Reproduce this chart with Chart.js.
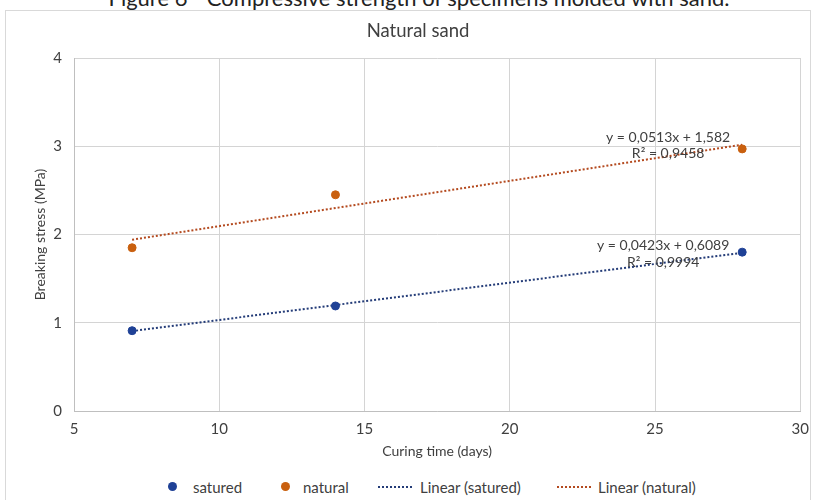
<!DOCTYPE html>
<html>
<head>
<meta charset="utf-8">
<script src="https://cdn.jsdelivr.net/npm/chart.js@4"></script>
<style>
  html, body { margin:0; padding:0; background:#fff; overflow:hidden; }
  body { width:814px; height:500px; position:relative; font-family: Lato, "Open Sans", sans-serif; }
  #caption { position:absolute; left:0; width:838px; top:-15px; line-height:26px; text-align:center; font-size:22px; color:#222; white-space:nowrap; }
  #frame { position:absolute; left:5px; top:10px; width:806px; height:495px; border:1px solid #d9d9d9; box-sizing:border-box; background:#fff; }
  #wrap { position:absolute; left:0; top:0; width:812px; height:453px; }
  #legend { position:absolute; left:0; top:477px; width:814px; height:20px; font-size:15px; color:#404040; }
  .item { position:absolute; top:0; line-height:20px; white-space:nowrap; }
  .dot { position:absolute; width:9px; height:9px; border-radius:50%; top:5px; }
  .dash { position:absolute; width:34px; height:0; top:9px; border-top:2px dotted; }
</style>
</head>
<body>
<div id="caption">Figure 6 - Compressive strength of specimens molded with sand.</div>
<div id="frame"><div id="wrap"><canvas id="c"></canvas></div></div>
<div id="legend"></div>
<script>
// ---- data ----
const curingDays = [7, 14, 28];
const saturedStress = [0.91, 1.19, 1.80];
const naturalStress = [1.85, 2.45, 2.97];
const trendDays = [7, 28];
const saturedTrend = [0.905, 1.793];
const naturalTrend = [1.941, 3.018];
const xTicks = [5, 10, 15, 20, 25, 30];
const yTicks = [0, 1, 2, 3, 4];
const seriesLabels = ['satured', 'natural', 'Linear (satured)', 'Linear (natural)'];
const saturedEquation = ["y = 0,0423x + 0,6089", "R² = 0,9994"];
const naturalEquation = ["y = 0,0513x + 1,582", "R² = 0,9458"];

const toPts = (xs, ys) => xs.map((x, i) => ({ x: x, y: ys[i] }));

const FONT = "Lato, 'Open Sans', sans-serif";
const BLUE = '#1f4196';
const ORANGE = '#c9600f';
const BLUE_T = '#243c78';
const ORANGE_T = '#b44a1f';

const annotations = [
  { lines: naturalEquation, x: 25.45, y: 3.10, dy: 16 },
  { lines: saturedEquation, x: 25.28, y: 1.88, dy: 17 }
];

const overlayPlugin = {
  id: 'overlayText',
  afterDatasetsDraw(chart) {
    const ctx = chart.ctx;
    const xs = chart.scales.x, ys = chart.scales.y;
    ctx.save();
    ctx.fillStyle = '#404040';
    ctx.font = '18.5px ' + FONT;
    ctx.textAlign = 'center';
    ctx.textBaseline = 'middle';
    ctx.fillText('Natural sand', 412, 20);
    ctx.font = '14px ' + FONT;
    annotations.forEach(a => {
      const px = xs.getPixelForValue(a.x);
      const py = ys.getPixelForValue(a.y);
      ctx.fillText(a.lines[0], px, py);
      ctx.fillText(a.lines[1], px, py + a.dy);
    });
    ctx.restore();
  }
};

new Chart(document.getElementById('c'), {
  type: 'scatter',
  data: {
    datasets: [
      { label: seriesLabels[0], data: toPts(curingDays, saturedStress), backgroundColor: BLUE, borderColor: BLUE, pointRadius: 4, pointHoverRadius: 4, showLine: false, order: 1 },
      { label: seriesLabels[1], data: toPts(curingDays, naturalStress), backgroundColor: ORANGE, borderColor: ORANGE, pointRadius: 4, pointHoverRadius: 4, showLine: false, order: 1 },
      { label: seriesLabels[2], data: toPts(trendDays, saturedTrend), borderColor: BLUE_T, backgroundColor: BLUE_T, borderWidth: 2, borderDash: [2, 2], pointRadius: 0, showLine: true, order: 2 },
      { label: seriesLabels[3], data: toPts(trendDays, naturalTrend), borderColor: ORANGE_T, backgroundColor: ORANGE_T, borderWidth: 2, borderDash: [2, 2], pointRadius: 0, showLine: true, order: 2 }
    ]
  },
  options: {
    responsive: true,
    maintainAspectRatio: false,
    animation: false,
    devicePixelRatio: 1,
    layout: { padding: { top: 47, right: 4, left: 26, bottom: 0 } },
    plugins: {
      title: { display: false },
      tooltip: { enabled: false },
      legend: { display: false }
    },
    scales: {
      x: {
        type: 'linear',
        min: 5, max: 30,
        afterBuildTicks(s) { s.ticks = xTicks.map(v => ({ value: v })); },
        afterFit(s) { s.height = 53; },
        grid: { color: '#d4d4d4', lineWidth: 1, drawTicks: false },
        border: { color: '#bfbfbf' },
        ticks: { color: '#404040', font: { family: FONT, size: 15 }, padding: 9 },
        title: { display: true, text: 'Curing time (days)', color: '#404040', font: { family: FONT, size: 14 }, padding: { top: 4 } }
      },
      y: {
        type: 'linear',
        min: 0, max: 4,
        afterBuildTicks(s) { s.ticks = yTicks.map(v => ({ value: v })); },
        afterFit(s) { s.width = 42; },
        grid: { color: '#d4d4d4', lineWidth: 1, drawTicks: false },
        border: { color: '#bfbfbf' },
        ticks: { color: '#404040', font: { family: FONT, size: 15 }, padding: 12 },
        title: { display: true, text: 'Breaking stress (MPa)', color: '#404040', font: { family: FONT, size: 14 }, padding: { top: 0, bottom: 0 } }
      }
    }
  },
  plugins: [overlayPlugin]
});

// HTML legend
const legendEl = document.getElementById('legend');
const legendSpec = [
  { kind: 'dot', color: BLUE, markX: 168, textX: 193 },
  { kind: 'dot', color: ORANGE, markX: 281, textX: 303 },
  { kind: 'dash', color: BLUE_T, markX: 378, textX: 420 },
  { kind: 'dash', color: ORANGE_T, markX: 557, textX: 598 }
];
legendSpec.forEach((s, i) => {
  const m = document.createElement('div');
  m.className = s.kind;
  m.style.left = s.markX + 'px';
  if (s.kind === 'dot') m.style.background = s.color; else m.style.borderTopColor = s.color;
  legendEl.appendChild(m);
  const t = document.createElement('div');
  t.className = 'item';
  t.style.left = s.textX + 'px';
  t.textContent = seriesLabels[i];
  legendEl.appendChild(t);
});
</script>
</body>
</html>
